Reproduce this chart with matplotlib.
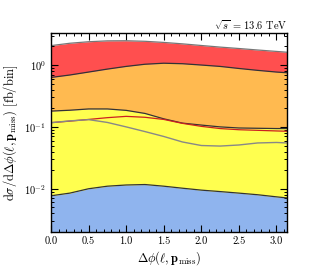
import numpy as np
import matplotlib
matplotlib.use("Agg")
from matplotlib import pyplot as plt
from matplotlib.ticker import MultipleLocator, LogLocator

plt.rcParams['font.family'] = 'cmr10'
plt.rcParams['mathtext.fontset'] = 'cm'
plt.rcParams['axes.formatter.use_mathtext'] = True

# bin centres in delta phi
dphi = [0.0, 0.25, 0.5, 0.75, 1.0, 1.25, 1.5, 1.75, 2.0, 2.25, 2.5, 2.75, 3.0, np.pi]

# stacked contributions (cumulative upper edges), fb/bin
edge_blue = [0.0077, 0.0085, 0.0100, 0.0110, 0.0115, 0.0117, 0.0110, 0.0102,
             0.0095, 0.0090, 0.0085, 0.0080, 0.0074, 0.0071]
edge_yellow = [0.180, 0.186, 0.195, 0.195, 0.185, 0.165, 0.135, 0.115,
               0.107, 0.100, 0.096, 0.095, 0.094, 0.094]
edge_orange = [0.63, 0.69, 0.77, 0.86, 0.95, 1.03, 1.07, 1.05,
               1.00, 0.95, 0.88, 0.82, 0.77, 0.75]
edge_red = [2.06, 2.25, 2.38, 2.46, 2.47, 2.42, 2.32, 2.20,
            2.07, 1.95, 1.85, 1.75, 1.66, 1.61]

# extra overlaid curves
line_red = [0.117, 0.124, 0.132, 0.141, 0.148, 0.143, 0.132, 0.114,
            0.102, 0.094, 0.090, 0.088, 0.086, 0.085]
line_gray = [0.117, 0.125, 0.131, 0.118, 0.100, 0.084, 0.070, 0.057,
             0.050, 0.049, 0.051, 0.055, 0.056, 0.055]

ymin, ymax = 2e-3, 3.3

fig = plt.figure(figsize=(3.19, 2.77), dpi=100)
ax = fig.add_axes([0.16, 0.1625, 0.74, 0.7185])

ax.fill_between(dphi, ymin, edge_blue, color='#8fb4ee', lw=0)
ax.fill_between(dphi, edge_blue, edge_yellow, color='#ffff4f', lw=0)
ax.fill_between(dphi, edge_yellow, edge_orange, color='#ffba50', lw=0)
ax.fill_between(dphi, edge_orange, edge_red, color='#ff4f4f', lw=0)

ax.plot(dphi, edge_blue, color='#333333', lw=0.9)
ax.plot(dphi, edge_yellow, color='#333333', lw=0.9)
ax.plot(dphi, edge_orange, color='#333333', lw=0.9)
ax.plot(dphi, edge_red, color='#777777', lw=0.9)
ax.plot(dphi, line_red, color='#cc2020', lw=0.9)
ax.plot(dphi, line_gray, color='#888888', lw=1.0)

ax.set_yscale('log')
ax.set_xlim(0, np.pi)
ax.set_ylim(ymin, ymax)
ax.xaxis.set_major_locator(MultipleLocator(0.5))
ax.xaxis.set_minor_locator(MultipleLocator(0.1))
ax.yaxis.set_major_locator(LogLocator(base=10))
ax.yaxis.set_minor_locator(LogLocator(base=10, subs=np.arange(2, 10)))
ax.xaxis.set_major_formatter(matplotlib.ticker.FormatStrFormatter('%.1f'))
ax.tick_params(which='both', direction='in', top=True, right=True, labelsize=7.5)
ax.tick_params(which='major', length=5, width=0.8)
ax.tick_params(which='minor', length=2.5, width=0.7)
for s in ax.spines.values():
    s.set_linewidth(1.0)

ax.set_xlabel(r'$\Delta\phi(\ell,\mathbf{p}_{\rm miss})$', fontsize=9, labelpad=2)
ax.set_ylabel(r'$\mathrm{d}\sigma/\mathrm{d}\Delta\phi(\ell,\mathbf{p}_{\rm miss})$ [fb/bin]',
              fontsize=9, labelpad=3)
ax.set_title(r'$\sqrt{s}$ = 13.6 TeV', loc='right', fontsize=7.5, pad=2)

plt.savefig('out.png', dpi=100)
